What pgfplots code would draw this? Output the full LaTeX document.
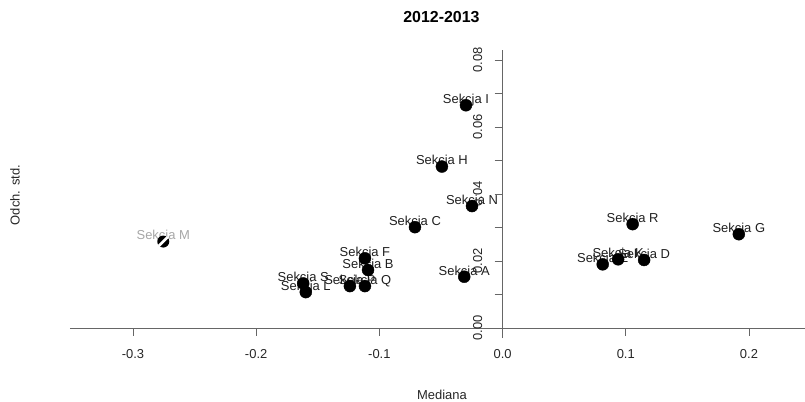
\documentclass[border=0pt]{standalone}
\usepackage{fontspec}
\setmainfont{Liberation Sans}
\usepackage{pgfplots}
\pgfplotsset{compat=1.18}
\usepackage{pgfplotstable}

\pgfplotstableread{
x y label
-0.1618 0.0133 {Sekcja S}
-0.1597 0.0107 {Sekcja L}
-0.1239 0.0125 {Sekcja P}
-0.1117 0.0125 {Sekcja Q}
-0.1092 0.0173 {Sekcja B}
-0.1117 0.0208 {Sekcja F}
-0.0711 0.0301 {Sekcja C}
-0.0492 0.0482 {Sekcja H}
-0.0297 0.0665 {Sekcja I}
-0.0248 0.0364 {Sekcja N}
-0.0311 0.0153 {Sekcja A}
0.0813 0.0190 {Sekcja E}
0.0938 0.0205 {Sekcja K}
0.1149 0.0203 {Sekcja D}
0.1056 0.0310 {Sekcja R}
0.1918 0.0280 {Sekcja G}
}\datamain

\pgfplotstableread{
x y label
-0.2754 0.0258 {Sekcja M}
}\dataM

\pgfdeclareplotmark{stripe}{%
  \pgfpathcircle{\pgfpointorigin}{\pgfplotmarksize}%
  \pgfusepathqfill
  \pgfsetstrokecolor{white}%
  \pgfsetlinewidth{2.6bp}%
  \pgfpathmoveto{\pgfpoint{-0.75\pgfplotmarksize}{-0.75\pgfplotmarksize}}%
  \pgfpathlineto{\pgfpoint{0.75\pgfplotmarksize}{0.75\pgfplotmarksize}}%
  \pgfusepathqstroke
}

\begin{document}
\begin{tikzpicture}
\useasboundingbox (-70bp,-64bp) rectangle (735bp,338bp);
\begin{axis}[
  scale only axis, width=735bp, height=288bp,
  xmin=-0.3511, xmax=0.2455, ymin=-0.003, ymax=0.083,
  clip=false,
  axis lines=middle,
  axis line style={-, draw=black!60, line width=0.9bp},
  tick style={draw=black!60, line width=0.9bp},
  tick align=outside, major tick length=8bp, minor tick length=8bp,
  hide obscured x ticks=false, hide obscured y ticks=false,
  scaled x ticks=false, scaled y ticks=false,
  xtick={-0.3,-0.2,-0.1,0,0.1,0.2},
  xticklabels={-0.3,-0.2,-0.1,0.0,0.1,0.2},
  ytick={0,0.02,0.04,0.06,0.08},
  yticklabels={0.00,0.02,0.04,0.06,0.08},
  minor ytick={0.01,0.03,0.05,0.07},
  tick label style={font=\fontsize{13}{15}\selectfont, text=black!85},
  xticklabel style={anchor=center, yshift=-18bp},
  yticklabel style={rotate=90, anchor=center, yshift=17bp},
  every axis x label/.style={at={(axis description cs:0.506,-0.196)}, anchor=center, font=\fontsize{13}{15}\selectfont, text=black!85},
  every axis y label/.style={at={(axis description cs:-0.0748,0.4965)}, anchor=center, rotate=90, font=\fontsize{13}{15}\selectfont, text=black!85},
  every axis title/.style={at={(axis description cs:0.5054,1.1146)}, anchor=center, font=\bfseries\fontsize{16}{19}\selectfont},
  xlabel={Mediana}, ylabel={Odch. std.}, title={2012-2013},
]
% labels (drawn first so the points lie on top)
\addplot[only marks, mark=none, point meta=explicit symbolic,
  nodes near coords, nodes near coords style={anchor=center, yshift=5bp, font=\fontsize{13}{15}\selectfont, text=black!88}]
  table[x=x, y=y, meta=label] {\datamain};
\addplot[only marks, mark=none, point meta=explicit symbolic,
  nodes near coords, nodes near coords style={anchor=center, yshift=5bp, font=\fontsize{13}{15}\selectfont, text=black!35}]
  table[x=x, y=y, meta=label] {\dataM};
% points
\addplot[only marks, mark=*, mark size=6bp, draw=black, fill=black]
  table[x=x, y=y] {\datamain};
\addplot[only marks, mark=stripe, mark size=6bp, draw=black, fill=black]
  table[x=x, y=y] {\dataM};
\end{axis}
\end{tikzpicture}
\end{document}
